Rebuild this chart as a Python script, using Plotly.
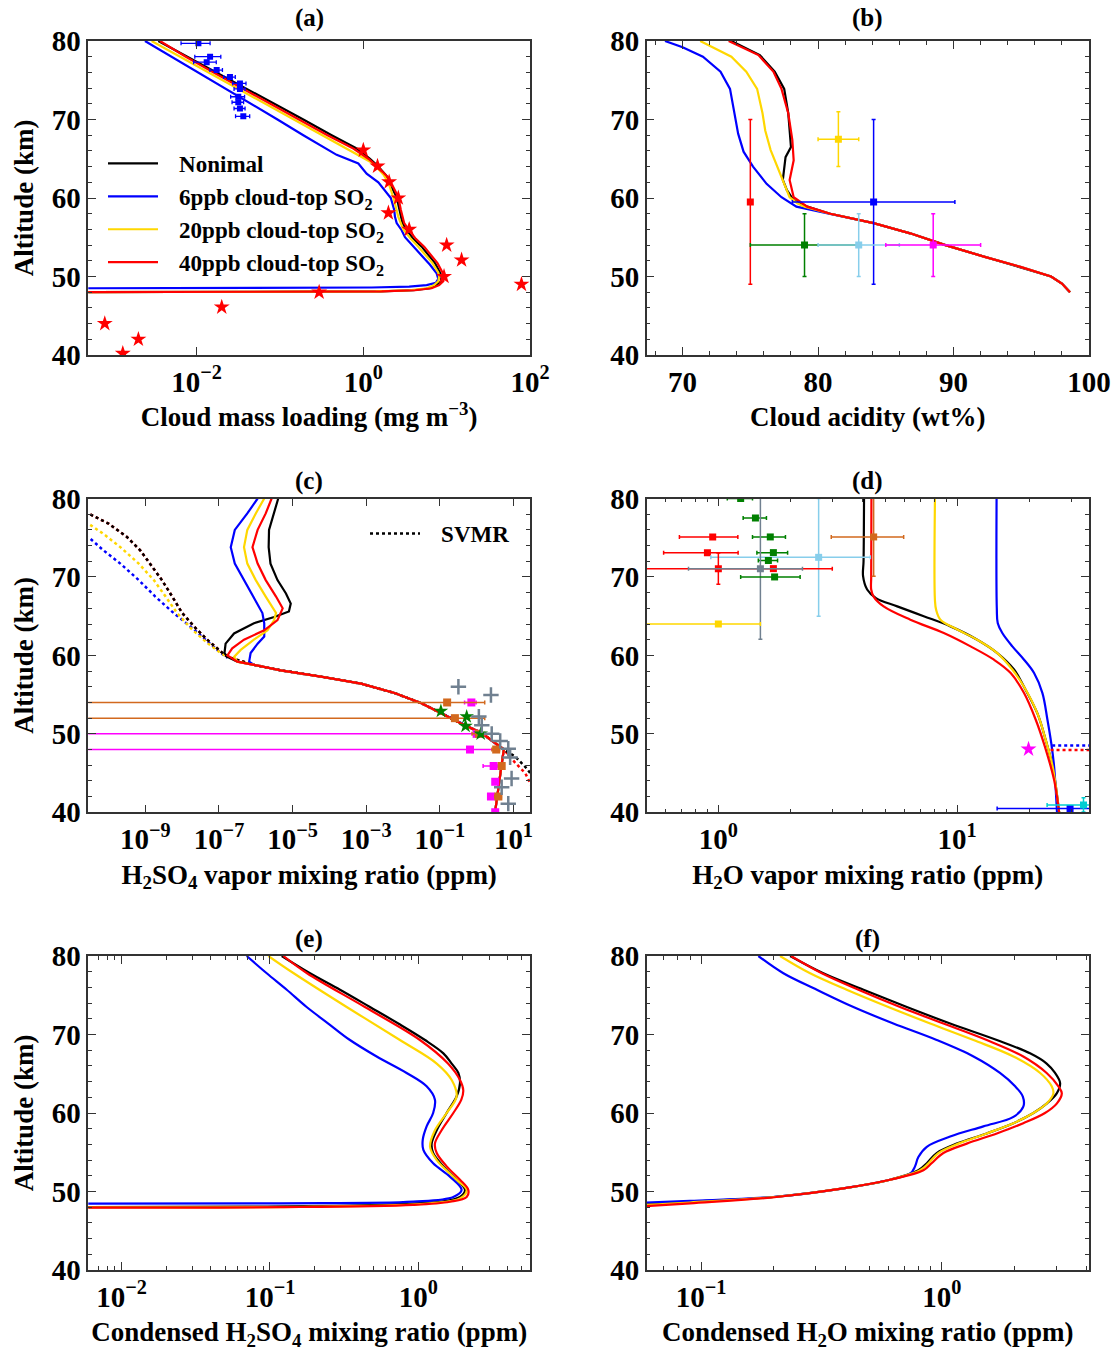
import plotly.graph_objects as go

# ---------------- DATA (log10 readings for log axes) ----------------
# (a) Cloud mass loading (mg m^-3), log10
a_alt_black = [80, 78, 76, 74, 72, 70, 68, 66.3, 65, 64, 62.8, 61.8, 60.1, 58.5, 57.6, 56.8, 55.9, 54.8, 53.8, 52.5, 51.7, 50.5, 50.0, 49.4, 48.9, 48.5, 48.25, 48.1, 48.0]
a_log_black = [-2.46, -2.11, -1.77, -1.42, -1.07, -0.72, -0.38, -0.08, 0.08, 0.18, 0.28, 0.32, 0.40, 0.43, 0.45, 0.47, 0.52, 0.60, 0.70, 0.80, 0.86, 0.92, 0.94, 0.93, 0.88, 0.80, 0.60, 0.20, -3.4]
a_alt_red = [80, 78, 76, 74, 72, 70, 68, 66.3, 65, 64, 62.8, 61.8, 60.1, 58.5, 57.6, 56.8, 55.9, 54.8, 53.8, 52.5, 51.7, 50.5, 50.0, 49.4, 48.9, 48.5, 48.25, 48.1, 48.0]
a_log_red = [-2.44, -2.13, -1.80, -1.46, -1.12, -0.77, -0.43, -0.12, 0.06, 0.17, 0.28, 0.34, 0.42, 0.45, 0.47, 0.49, 0.55, 0.63, 0.73, 0.83, 0.89, 0.95, 0.97, 0.96, 0.91, 0.82, 0.62, 0.22, -3.4]
a_alt_yellow = [80, 78, 76, 74, 72, 70, 68, 66, 64.4, 63, 62, 60.1, 58.5, 57.6, 56, 54.8, 53.8, 52.5, 51.7, 50.5, 50.0, 49.4, 48.9, 48.5, 48.25, 48.1, 48.0]
a_log_yellow = [-2.54, -2.20, -1.86, -1.52, -1.17, -0.83, -0.49, -0.15, 0.12, 0.24, 0.30, 0.36, 0.40, 0.42, 0.48, 0.57, 0.66, 0.77, 0.83, 0.90, 0.91, 0.90, 0.85, 0.76, 0.55, 0.15, -3.4]
a_alt_blue = [80, 78, 76, 74, 72, 70, 68, 65.5, 64.4, 63.1, 62, 61, 60, 58.5, 57.6, 56.8, 55.9, 55, 53.8, 52.5, 51.5, 50.4, 49.7, 49.2, 48.9, 48.7, 48.6, 48.5]
a_log_blue = [-2.62, -2.30, -1.99, -1.67, -1.35, -1.03, -0.72, -0.32, -0.06, 0.04, 0.18, 0.26, 0.33, 0.37, 0.38, 0.40, 0.46, 0.50, 0.60, 0.72, 0.80, 0.88, 0.90, 0.87, 0.76, 0.55, 0.10, -3.4]
a_obs_alt = [79.7, 78.0, 77.3, 76.3, 75.4, 74.6, 73.9, 72.9, 72.2, 71.4, 70.4]
a_obs_val = [0.0105, 0.0145, 0.0132, 0.0174, 0.0251, 0.0331, 0.0331, 0.0316, 0.0316, 0.0331, 0.0363]
a_obs_err = [0.0040, 0.0050, 0.0040, 0.0030, 0.0040, 0.0060, 0.0050, 0.0060, 0.0050, 0.0050, 0.0070]
a_star_alt = [66.1, 64.05, 62.05, 60.0, 58.1, 56.0, 54.0, 52.1, 50.0, 49.0, 48.0, 46.1, 44.0, 42.0, 40.2]
a_star_val = [1.0, 1.48, 2.04, 2.63, 2.0, 3.55, 10.0, 15.1, 9.3, 79.0, 0.295, 0.020, 0.00079, 0.0020, 0.0013]
a_tickvals = [0.01, 1, 100]
a_ticktext = ["10<sup>\u22122</sup>", "10<sup>0</sup>", "10<sup>2</sup>"]

# (b) Cloud acidity (wt%)
b_alt_low = [58.0, 56.8, 55.5, 54.0, 52.5, 51.2, 50.0, 49.1, 48.0]
b_val_low = [80.9, 84.1, 86.8, 89.4, 92.3, 95.0, 97.2, 98.0, 98.6]
b_alt_black = [80, 78.2, 76.1, 73.9, 70.8, 67.4, 66.5, 65.2, 64.0, 62.3, 61.0, 59.7, 58.9]
b_val_black = [73.6, 75.7, 76.8, 77.5, 77.8, 78.0, 78.0, 77.6, 77.5, 77.4, 77.7, 78.2, 79.2]
b_alt_red = [80, 78.2, 76.1, 73.9, 70.8, 67.4, 64.8, 62.3, 60.1, 59.3, 58.9]
b_val_red = [73.4, 75.6, 76.7, 77.3, 77.8, 78.1, 78.2, 77.9, 78.2, 78.9, 79.2]
b_alt_yellow = [80, 78.0, 76.1, 73.9, 70.8, 68.6, 66.1, 63.5, 61.8, 60.1, 59.3, 58.9]
b_val_yellow = [71.3, 73.6, 74.7, 75.5, 75.9, 76.1, 76.5, 77.1, 77.5, 77.9, 78.5, 79.0]
b_alt_blue = [80, 79.2, 78.0, 76.1, 73.9, 70.8, 68.2, 65.9, 64.0, 61.8, 60.1, 58.9]
b_val_blue = [68.7, 70.0, 71.5, 72.8, 73.5, 73.8, 74.1, 74.5, 75.2, 76.2, 77.3, 78.4]
b_obs_name = ["red", "gold", "blue", "green", "skyblue", "magenta"]
b_obs_x = [75.0, 81.5, 84.1, 79.0, 83.0, 88.5]
b_obs_xerr = [0.0, 1.5, 6.0, 4.0, 3.0, 3.5]
b_obs_alt = [59.5, 67.5, 59.5, 54.0, 54.0, 54.0]
b_obs_yerr = [10.5, 3.5, 10.5, 4.0, 4.0, 4.0]

# (c) H2SO4 vapor mixing ratio (ppm), log10
c_alt_low = [58.8, 58.1, 57.3, 56.4, 55.2, 53.9, 52.6, 51.3, 50.1, 48.8, 48.0, 47.1, 45.0, 42.4, 40.0]
c_log_low = [-6.05, -5.32, -4.23, -3.14, -2.23, -1.50, -0.95, -0.41, 0.14, 0.50, 0.74, 0.71, 0.65, 0.58, 0.50]
c_alt_black = [80, 78.1, 76.0, 73.8, 71.7, 69.6, 67.9, 66.6, 65.6, 64.9, 64.1, 62.8, 61.5, 60.3, 59.8, 59.2]
c_log_black = [-5.39, -5.50, -5.64, -5.65, -5.60, -5.41, -5.18, -5.05, -5.10, -5.50, -6.05, -6.59, -6.82, -6.85, -6.77, -6.50]
c_alt_red = [80, 78.1, 76.0, 73.8, 71.7, 69.6, 67.5, 66.0, 64.5, 63.2, 62.0, 60.9, 60.0, 59.2]
c_log_red = [-5.57, -5.73, -5.95, -6.09, -5.95, -5.73, -5.45, -5.27, -5.41, -5.77, -6.32, -6.64, -6.77, -6.50]
c_alt_yellow = [80, 78.1, 76.0, 73.8, 71.7, 69.6, 67.5, 65.4, 64.5, 63.2, 62.0, 60.7, 59.8, 59.2]
c_log_yellow = [-5.77, -6.00, -6.23, -6.32, -6.23, -6.00, -5.73, -5.45, -5.50, -5.68, -6.05, -6.41, -6.59, -6.50]
c_alt_blue = [80, 78.1, 76.0, 73.8, 71.7, 69.6, 67.5, 65.4, 64.1, 62.4, 61.5, 60.3, 59.2]
c_log_blue = [-5.95, -6.23, -6.57, -6.68, -6.57, -6.32, -6.05, -5.82, -5.77, -5.77, -5.95, -6.14, -6.18]
c_svmr_alt_top = [78.5, 78.1, 76.8, 75.1, 73.4, 71.3, 69.6, 67.5, 65.4, 63.7, 62.0, 60.7, 59.8]
c_svmr_log_top = [-10.8, -10.55, -10.0, -9.5, -9.14, -8.82, -8.55, -8.27, -8.0, -7.68, -7.32, -7.0, -6.77]
c_svmr_alt_black_low = [48.0, 47.1, 45.8, 44.75, 44.0]
c_svmr_log_black_low = [0.74, 1.05, 1.32, 1.50, 1.65]
c_svmr_alt_red_low = [48.0, 46.3, 45.0, 43.3, 42.5]
c_svmr_log_red_low = [0.74, 1.05, 1.32, 1.50, 1.65]
c_svmr_alt_yellow = [77.2, 76.8, 75.5, 73.8, 71.7, 69.6, 67.5, 65.4, 63.3, 61.6, 60.3, 59.8]
c_svmr_log_yellow = [-10.8, -10.55, -10.14, -9.68, -9.18, -8.77, -8.45, -8.14, -7.73, -7.32, -6.95, -6.77]
c_svmr_alt_blue = [75.2, 74.9, 73.4, 71.7, 69.6, 67.5, 65.4, 63.3, 61.6, 60.3, 59.7]
c_svmr_log_blue = [-10.8, -10.5, -10.14, -9.68, -9.18, -8.73, -8.23, -7.68, -7.27, -6.95, -6.77]
c_brown_alt = [54.0, 52.0, 50.0, 48.0, 45.9, 42.0]
c_brown_val = [0.158, 0.257, 1.15, 3.40, 4.80, 3.90]
c_brown_high = [1.66, 1.66, 1.65, 4.20, 5.60, 4.70]
c_brown_low = [1e-12, 1e-12, 0.75, 2.60, 4.00, 3.10]
c_mag_alt = [54.0, 50.0, 48.0, 45.9, 43.9, 42.0, 40.0]
c_mag_val = [0.72, 1.00, 0.66, 2.90, 3.20, 2.45, 3.20]
c_mag_high = [0.97, 1.66, 3.06, 3.80, 3.20, 2.45, 3.20]
c_mag_low = [0.47, 1e-12, 1e-12, 1.50, 3.20, 2.45, 3.20]
c_green_alt = [52.9, 52.2, 51.0, 50.0]
c_green_val = [0.107, 0.537, 0.50, 1.29]
c_gray_alt = [56.0, 54.95, 52.2, 51.1, 50.0, 49.1, 48.1, 47.0, 44.3, 43.2, 41.1]
c_gray_val = [0.32, 2.45, 1.15, 1.38, 2.57, 4.37, 7.24, 8.13, 8.91, 4.79, 7.24]
c_tickvals = [1e-9, 1e-7, 1e-5, 1e-3, 1e-1, 10]
c_ticktext = ["10<sup>\u22129</sup>", "10<sup>\u22127</sup>", "10<sup>\u22125</sup>", "10<sup>\u22123</sup>", "10<sup>\u22121</sup>", "10<sup>1</sup>"]

# (d) H2O vapor mixing ratio (ppm), log10
d_alt_black = [80, 72, 70.1, 68.4, 67.3, 66.25, 65.0, 63.7, 62.0, 60.3, 58.2, 56.0, 52.6, 49.2, 45.8, 40.0]
d_log_black = [0.610, 0.608, 0.606, 0.623, 0.660, 0.749, 0.860, 0.972, 1.084, 1.168, 1.238, 1.280, 1.336, 1.371, 1.400, 1.427]
d_alt_red = [80, 70, 68.4, 67.5, 66.25, 64.55, 62.85, 61.15, 59.45, 57.75, 55.2, 51.8, 48.4, 44.1, 40.0]
d_log_red = [0.641, 0.640, 0.640, 0.650, 0.692, 0.804, 0.944, 1.056, 1.154, 1.224, 1.280, 1.329, 1.367, 1.406, 1.427]
d_alt_yellow = [80, 67, 65.8, 64.55, 63.3, 62.0, 60.3, 58.2, 56.0, 52.6, 49.2, 45.8, 40.0]
d_log_yellow = [0.907, 0.907, 0.912, 0.930, 1.000, 1.084, 1.168, 1.231, 1.280, 1.336, 1.371, 1.400, 1.427]
d_alt_blue = [80, 66, 64.1, 62.85, 61.15, 59.45, 57.75, 55.2, 51.8, 48.8, 45.8, 40.0]
d_log_blue = [1.165, 1.166, 1.170, 1.189, 1.231, 1.280, 1.322, 1.357, 1.378, 1.394, 1.406, 1.418]
d_dot_blue_alt = [48.5, 48.5]
d_dot_blue_val = [25.0, 40.0]
d_dot_red_alt = [47.95, 47.95]
d_dot_red_val = [24.6, 40.0]
d_obs_color = ["green", "green", "red", "green", "red", "green", "skyblue", "green", "red", "red", "slategray", "green", "gold", "chocolate", "blue", "darkturquoise"]
d_obs_val = [1.24, 1.43, 0.947, 1.65, 0.90, 1.70, 2.63, 1.62, 1.00, 1.70, 1.50, 1.72, 1.00, 4.47, 29.7, 33.8]
d_obs_alt = [80.0, 77.5, 75.1, 75.1, 73.1, 73.1, 72.5, 72.1, 71.06, 71.06, 71.06, 70.0, 64.0, 75.1, 40.5, 40.94]
d_obs_xplus = [0.15, 0.16, 0.26, 0.26, 0.31, 0.25, 1.70, 0.15, 0.0, 1.30, 0.75, 0.48, 0.50, 1.50, 15.0, 10.0]
d_obs_xminus = [0.15, 0.16, 0.26, 0.26, 0.31, 0.25, 1.70, 0.15, 0.0, 1.30, 0.75, 0.48, 0.60, 1.50, 15.0, 10.0]
d_obs_yerr = [0.0, 0.0, 0.0, 0.0, 0.0, 0.0, 7.5, 0.0, 2.0, 0.0, 9.0, 0.0, 0.0, 5.0, 0.0, 0.9]
d_star_alt = [48.05]
d_star_val = [19.9]
d_tickvals = [1, 10]
d_ticktext = ["10<sup>0</sup>", "10<sup>1</sup>"]

# (e) Condensed H2SO4 mixing ratio (ppm), log10
e_alt_black = [80, 77.8, 75.7, 73.5, 71.4, 69.3, 67.6, 66.3, 65.1, 63.8, 62.1, 60.0, 57.8, 56.1, 54.9, 53.2, 51.5, 50.2, 49.3, 48.7, 48.3, 48.07, 48.0]
e_log_black = [-0.921, -0.730, -0.528, -0.326, -0.135, 0.045, 0.169, 0.225, 0.270, 0.281, 0.258, 0.191, 0.124, 0.090, 0.100, 0.169, 0.258, 0.315, 0.281, 0.146, -0.258, -1.157, -2.3]
e_alt_red = [80, 77.8, 73.5, 69.3, 66.3, 64.2, 62.9, 61.7, 60.0, 57.8, 56.1, 54.9, 53.2, 51.5, 50.2, 49.3, 48.7, 48.3, 48.0, 47.95]
e_log_red = [-0.910, -0.750, -0.360, 0.011, 0.200, 0.281, 0.303, 0.290, 0.236, 0.157, 0.112, 0.124, 0.191, 0.281, 0.337, 0.326, 0.213, -0.034, -0.930, -2.3]
e_alt_yellow = [80, 77.8, 73.5, 69.3, 66.3, 64.2, 62.1, 60.0, 57.8, 55.7, 54.0, 51.5, 50.2, 49.1, 48.5, 48.07, 48.0]
e_log_yellow = [-1.011, -0.840, -0.483, -0.124, 0.124, 0.225, 0.258, 0.191, 0.112, 0.079, 0.124, 0.258, 0.326, 0.281, 0.080, -0.708, -2.3]
e_alt_blue = [80, 77.8, 75.7, 73.5, 71.4, 69.3, 67.2, 65.1, 63.4, 61.7, 60.0, 58.3, 56.6, 55.3, 53.6, 51.9, 50.2, 49.3, 48.7, 48.5, 48.45]
e_log_blue = [-1.157, -1.022, -0.887, -0.753, -0.607, -0.461, -0.281, -0.079, 0.056, 0.112, 0.100, 0.056, 0.030, 0.034, 0.100, 0.213, 0.292, 0.236, -0.034, -0.930, -2.3]
e_tickvals = [0.01, 0.1, 1]
e_ticktext = ["10<sup>\u22122</sup>", "10<sup>\u22121</sup>", "10<sup>0</sup>"]

# (f) Condensed H2O mixing ratio (ppm), log10
f_alt_black = [80, 77.8, 75.7, 73.5, 71.4, 69.3, 67.6, 66.3, 65.1, 63.8, 62.5, 61.2, 60.0, 58.7, 57.4, 56.1, 54.9, 53.6, 52.7, 51.5, 50.4, 49.3, 48.7, 48.3]
f_log_black = [-0.630, -0.492, -0.325, -0.145, 0.035, 0.229, 0.367, 0.436, 0.471, 0.492, 0.478, 0.436, 0.381, 0.298, 0.187, 0.062, -0.021, -0.062, -0.097, -0.215, -0.409, -0.700, -1.046, -1.30]
f_alt_red = [80, 77.8, 75.7, 73.5, 71.4, 69.3, 67.2, 65.1, 63.4, 62.5, 61.2, 60.0, 58.7, 57.4, 56.1, 54.9, 53.6, 52.7, 51.5, 50.4, 49.3, 48.5, 48.0]
f_log_red = [-0.626, -0.498, -0.346, -0.173, 0.007, 0.187, 0.339, 0.436, 0.485, 0.499, 0.478, 0.429, 0.339, 0.229, 0.104, 0.007, -0.042, -0.076, -0.215, -0.409, -0.686, -1.046, -1.30]
f_alt_yellow = [80, 77.8, 75.7, 73.5, 71.4, 69.3, 67.2, 65.1, 63.4, 62.5, 61.2, 60.0, 58.7, 57.4, 56.1, 54.9, 53.6, 52.7, 51.5, 50.4, 49.3, 48.6, 48.2]
f_log_yellow = [-0.672, -0.547, -0.395, -0.222, -0.048, 0.132, 0.298, 0.409, 0.457, 0.464, 0.436, 0.381, 0.298, 0.187, 0.069, -0.014, -0.055, -0.090, -0.215, -0.409, -0.693, -1.046, -1.30]
f_alt_blue = [80, 77.8, 75.7, 73.5, 71.4, 69.3, 67.2, 65.1, 63.4, 62.1, 60.8, 59.5, 58.3, 57.0, 55.7, 54.4, 53.2, 52.3, 51.5, 50.4, 49.3, 48.8, 48.5]
f_log_blue = [-0.762, -0.658, -0.519, -0.367, -0.201, -0.021, 0.132, 0.242, 0.305, 0.337, 0.339, 0.298, 0.173, 0.035, -0.062, -0.097, -0.111, -0.130, -0.215, -0.409, -0.700, -1.046, -1.30]
f_tickvals = [0.1, 1]
f_ticktext = ["10<sup>\u22121</sup>", "10<sup>0</sup>"]

legend_names = ["Nonimal", "6ppb cloud-top SO<sub>2</sub>", "20ppb cloud-top SO<sub>2</sub>", "40ppb cloud-top SO<sub>2</sub>"]
svmr_name = "SVMR"
panel_labels = ["(a)", "(b)", "(c)", "(d)", "(e)", "(f)"]
x_titles = ["Cloud mass loading (mg m<sup>\u22123</sup>)", "Cloud acidity (wt%)",
            "H<sub>2</sub>SO<sub>4</sub> vapor mixing ratio (ppm)", "H<sub>2</sub>O vapor mixing ratio (ppm)",
            "Condensed H<sub>2</sub>SO<sub>4</sub> mixing ratio (ppm)", "Condensed H<sub>2</sub>O mixing ratio (ppm)"]

# ---------------- STYLE ----------------
FONT = "Liberation Serif, Times New Roman, serif"
BLACK, BLUE, YELLOW, RED = "#000000", "#0000ff", "#ffd700", "#ff0000"
W, H = 1119, 1354
LW = 2.2
GAP = "\u2002\u2009"  # spacing between legend line sample and text

def pw(v):
    return [10 ** t for t in v]

fig = go.Figure()

def line(x, y, color, ax, dash="solid", name=None, legend=None, shape="linear", width=LW, group=None):
    fig.add_trace(go.Scatter(x=x, y=y, mode="lines", xaxis="x" + ax, yaxis="y" + ax,
                             line=dict(color=color, width=width, dash=dash, shape=shape),
                             name=(GAP + name) if name else "", showlegend=name is not None, legendgroup=group,
                             legend=legend if legend else "legend", hoverinfo="skip"))

def xerr(vals, high, low, color):
    return dict(type="data", symmetric=False,
                array=[h - v for h, v in zip(high, vals)],
                arrayminus=[v - l for v, l in zip(vals, low)],
                color=color, thickness=1.5, width=2)

# (a)
line(pw(a_log_black), a_alt_black, BLACK, "", name=legend_names[0], group="g1")
line(pw(a_log_blue), a_alt_blue, BLUE, "", name=legend_names[1], group="g2")
line(pw(a_log_yellow), a_alt_yellow, YELLOW, "", name=legend_names[2], group="g3")
line(pw(a_log_red), a_alt_red, RED, "", name=legend_names[3], group="g4")
fig.add_trace(go.Scatter(x=a_obs_val, y=a_obs_alt, mode="markers", xaxis="x", yaxis="y",
                         marker=dict(symbol="square", size=6, color=BLUE),
                         error_x=dict(type="data", array=a_obs_err, color=BLUE, thickness=1.3, width=2),
                         showlegend=False))
fig.add_trace(go.Scatter(x=a_star_val, y=a_star_alt, mode="markers", xaxis="x", yaxis="y",
                         marker=dict(symbol="star", size=12, color=RED), showlegend=False))

# (b)
line(b_val_black + b_val_low, b_alt_black + b_alt_low, BLACK, "2")
line(b_val_blue + b_val_low, b_alt_blue + b_alt_low, BLUE, "2")
line(b_val_yellow + b_val_low, b_alt_yellow + b_alt_low, YELLOW, "2")
line(b_val_red + b_val_low, b_alt_red + b_alt_low, RED, "2")
for c, xv, xe, yv, ye in zip(b_obs_name, b_obs_x, b_obs_xerr, b_obs_alt, b_obs_yerr):
    fig.add_trace(go.Scatter(x=[xv], y=[yv], mode="markers", xaxis="x2", yaxis="y2",
                             marker=dict(symbol="square", size=7, color=c),
                             error_x=dict(type="data", array=[xe], color=c, thickness=1.5, width=2, visible=xe > 0),
                             error_y=dict(type="data", array=[ye], color=c, thickness=1.5, width=2),
                             showlegend=False))

# (c)
line(pw(c_svmr_log_blue), c_svmr_alt_blue, BLUE, "3", dash="dot", width=2.5)
line(pw(c_svmr_log_yellow), c_svmr_alt_yellow, YELLOW, "3", dash="dot", width=2.5)
line(pw(c_svmr_log_top + c_log_low[:11] + c_svmr_log_red_low[1:]), c_svmr_alt_top + c_alt_low[:11] + c_svmr_alt_red_low[1:], RED, "3", dash="dot", width=2.5)
line(pw(c_svmr_log_top + c_log_low[:11] + c_svmr_log_black_low[1:]), c_svmr_alt_top + c_alt_low[:11] + c_svmr_alt_black_low[1:], BLACK, "3", dash="dot", width=2.5, name=svmr_name, legend="legend2")
line(pw(c_log_black + c_log_low), c_alt_black + c_alt_low, BLACK, "3")
line(pw(c_log_blue + c_log_low), c_alt_blue + c_alt_low, BLUE, "3")
line(pw(c_log_yellow + c_log_low), c_alt_yellow + c_alt_low, YELLOW, "3")
line(pw(c_log_red + c_log_low), c_alt_red + c_alt_low, RED, "3")
fig.add_trace(go.Scatter(x=c_mag_val, y=c_mag_alt, mode="markers", xaxis="x3", yaxis="y3",
                         marker=dict(symbol="square", size=8, color="magenta"),
                         error_x=xerr(c_mag_val, c_mag_high, c_mag_low, "magenta"), showlegend=False))
fig.add_trace(go.Scatter(x=c_brown_val, y=c_brown_alt, mode="markers", xaxis="x3", yaxis="y3",
                         marker=dict(symbol="square", size=8, color="chocolate"),
                         error_x=xerr(c_brown_val, c_brown_high, c_brown_low, "chocolate"), showlegend=False))
fig.add_trace(go.Scatter(x=c_green_val, y=c_green_alt, mode="markers", xaxis="x3", yaxis="y3",
                         marker=dict(symbol="star", size=11, color="green"), showlegend=False))
fig.add_trace(go.Scatter(x=c_gray_val, y=c_gray_alt, mode="markers", xaxis="x3", yaxis="y3",
                         marker=dict(symbol="cross-thin", size=11, color="slategray", line=dict(color="slategray", width=2.5)),
                         showlegend=False))

# (d)
line(pw(d_log_black), d_alt_black, BLACK, "4", shape="spline")
line(pw(d_log_blue), d_alt_blue, BLUE, "4", shape="spline")
line(pw(d_log_yellow), d_alt_yellow, YELLOW, "4", shape="spline")
line(pw(d_log_red), d_alt_red, RED, "4", shape="spline")
line(d_dot_blue_val, d_dot_blue_alt, BLUE, "4", dash="dot", width=2.5)
line(d_dot_red_val, d_dot_red_alt, RED, "4", dash="dot", width=2.5)
for c, xv, xp, xm, yv, ye in zip(d_obs_color, d_obs_val, d_obs_xplus, d_obs_xminus, d_obs_alt, d_obs_yerr):
    fig.add_trace(go.Scatter(x=[xv], y=[yv], mode="markers", xaxis="x4", yaxis="y4",
                             marker=dict(symbol="square", size=7, color=c),
                             error_x=dict(type="data", symmetric=False, array=[xp], arrayminus=[xm], color=c,
                                          thickness=1.5, width=2, visible=xp > 0),
                             error_y=dict(type="data", array=[ye], color=c, thickness=1.5, width=2, visible=ye > 0),
                             showlegend=False))
fig.add_trace(go.Scatter(x=d_star_val, y=d_star_alt, mode="markers", xaxis="x4", yaxis="y4",
                         marker=dict(symbol="star", size=12, color="magenta"), showlegend=False))

# (e)
line(pw(e_log_black), e_alt_black, BLACK, "5", shape="spline")
line(pw(e_log_blue), e_alt_blue, BLUE, "5", shape="spline")
line(pw(e_log_yellow), e_alt_yellow, YELLOW, "5", shape="spline")
line(pw(e_log_red), e_alt_red, RED, "5", shape="spline")

# (f)
line(pw(f_log_black), f_alt_black, BLACK, "6", shape="spline")
line(pw(f_log_blue), f_alt_blue, BLUE, "6", shape="spline")
line(pw(f_log_yellow), f_alt_yellow, YELLOW, "6", shape="spline")
line(pw(f_log_red), f_alt_red, RED, "6", shape="spline")

# ---------------- AXES ----------------
def dom_x(l, r):
    return [l / W, r / W]

def dom_y(t, b):
    return [1 - b / H, 1 - t / H]

col_x = [dom_x(88.3, 530), dom_x(646.7, 1089)]
row_y = [dom_y(41, 355), dom_y(498.5, 812.3), dom_y(956, 1270)]

AXC = "#333333"
tickfont = dict(family=FONT, size=29, color="black", weight="bold")
titlefont = dict(family=FONT, size=27, color="black", weight="bold")
axcommon = dict(showline=True, linecolor=AXC, linewidth=1.5, mirror="allticks", ticks="inside",
                ticklen=8, tickwidth=1.3, tickcolor=AXC, showgrid=False, zeroline=False,
                tickfont=tickfont, automargin=False)
minor_log = dict(ticks="inside", dtick="D1", ticklen=4, tickcolor=AXC, tickwidth=1.1, showgrid=False)

xcfg = [
    dict(type="log", range=[-3.3, 2.0], tickmode="array", tickvals=a_tickvals, ticktext=a_ticktext),
    dict(type="linear", range=[67.35, 100], dtick=10, minor=dict(ticks="inside", dtick=2, ticklen=4, tickcolor=AXC, tickwidth=1.1, showgrid=False)),
    dict(type="log", range=[-10.55, 1.45], tickmode="array", tickvals=c_tickvals, ticktext=c_ticktext),
    dict(type="log", range=[-0.30, 1.552], tickmode="array", tickvals=d_tickvals, ticktext=d_ticktext, minor=minor_log),
    dict(type="log", range=[-2.225, 0.753], tickmode="array", tickvals=e_tickvals, ticktext=e_ticktext, minor=minor_log),
    dict(type="log", range=[-1.226, 0.612], tickmode="array", tickvals=f_tickvals, ticktext=f_ticktext, minor=minor_log),
]
lay = {}
for i in range(6):
    sfx = "" if i == 0 else str(i + 1)
    r, c = divmod(i, 2)
    xa = dict(axcommon)
    xa.update(xcfg[i])
    xa.update(domain=col_x[c], anchor="y" + sfx,
              title=dict(text=x_titles[i], font=titlefont, standoff=11))
    ya = dict(axcommon)
    ya.update(domain=row_y[r], anchor="x" + sfx, range=[40, 80], dtick=10,
              minor=dict(ticks="inside", dtick=2, ticklen=4, tickcolor=AXC, tickwidth=1.1, showgrid=False))
    if c == 0:
        ya["title"] = dict(text="Altitude (km)", font=titlefont, standoff=10)
    lay["xaxis" + sfx] = xa
    lay["yaxis" + sfx] = ya

annotations = []
label_pos = [(309, 18), (867, 18), (309, 481), (867, 481), (309, 939), (867, 939)]
for lab, (px, py) in zip(panel_labels, label_pos):
    annotations.append(dict(text=lab, x=px / W, y=1 - py / H, xref="paper", yref="paper",
                            showarrow=False, xanchor="center", yanchor="middle",
                            font=dict(family=FONT, size=25, color="black", weight="bold")))

fig.update_layout(
    template="none",
    autosize=False,
    width=W, height=H, margin=dict(l=0, r=0, t=0, b=0, pad=0),
    paper_bgcolor="white", plot_bgcolor="white",
    annotations=annotations,
    legend=dict(x=103 / W, y=1 - 142 / H, xanchor="left", yanchor="top", bgcolor="rgba(0,0,0,0)",
                font=dict(family=FONT, size=23, color="black", weight="bold"), itemwidth=50,
                tracegroupgap=9, traceorder="normal"),
    legend2=dict(x=365 / W, y=1 - 512 / H, xanchor="left", yanchor="top", bgcolor="rgba(0,0,0,0)",
                 font=dict(family=FONT, size=23, color="black", weight="bold"), itemwidth=50),
    **lay,
)
fig.write_html("out.html", config={"responsive": False, "displayModeBar": False},
               post_script="document.body.style.margin='0px';document.body.style.overflow='hidden';")
